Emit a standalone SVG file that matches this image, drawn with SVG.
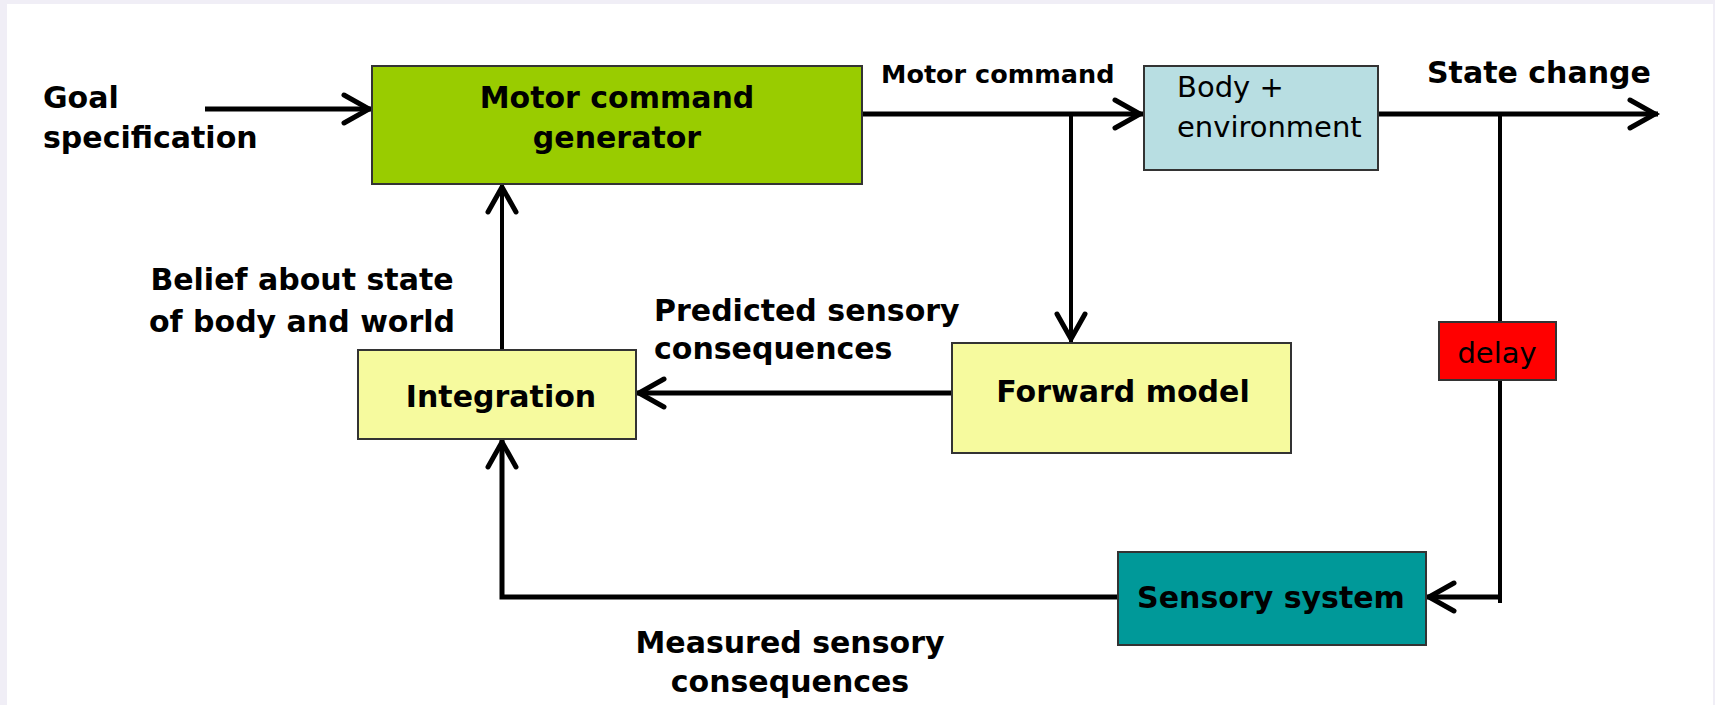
<svg xmlns="http://www.w3.org/2000/svg" width="1715" height="705" viewBox="0 0 1715 705">
  <style>
    .box { stroke: #333333; stroke-width: 2; }
    .b { font-family: "DejaVu Sans", Verdana, sans-serif; font-weight: bold; font-size: 30px; fill: #000; }
    .r { font-family: "DejaVu Sans", Verdana, sans-serif; font-weight: normal; font-size: 29px; fill: #000; }
    .c { text-anchor: middle; }
    .ln { fill: none; stroke: #000; stroke-width: 5; stroke-linejoin: miter; }
    .v { stroke-width: 4; }
  </style>
  <defs>
    <marker id="arr" markerUnits="userSpaceOnUse" markerWidth="44" markerHeight="44" viewBox="-38 -22 44 44" refX="0" refY="0" orient="auto" overflow="visible">
      <path d="M-28,-14 L-3,0 L-28,14" fill="none" stroke="#000" stroke-width="5" stroke-linecap="round"/>
    </marker>
  </defs>
  <rect x="0" y="0" width="1715" height="705" fill="#F0EEF6"/>
  <rect x="7" y="4" width="1706" height="701" fill="#FFFFFF"/>

  <g id="connectors">
    <path class="ln" d="M205,109 L372,109" marker-end="url(#arr)"/>
    <path class="ln" d="M862,114 L1143,114" marker-end="url(#arr)"/>
    <path class="ln" d="M1378,114 L1658,114" marker-end="url(#arr)"/>
    <path class="ln v" d="M1071,114 L1071,342" marker-end="url(#arr)"/>
    <path class="ln" d="M951,393 L636,393" marker-end="url(#arr)"/>
    <path class="ln v" d="M502,350 L502,184" marker-end="url(#arr)"/>
    <path class="ln" d="M1117,597 L502,597 L502,439" marker-end="url(#arr)"/>
    <path class="ln v" d="M1500,114 L1500,322"/>
    <path class="ln v" d="M1500,380 L1500,603"/>
    <path class="ln" d="M1500,597 L1426,597" marker-end="url(#arr)"/>
  </g>

  <g id="goal-label">
    <text class="b" x="43" y="108">Goal</text>
    <text class="b" x="43" y="148">specification</text>
  </g>

  <g id="motor-command-generator">
    <rect class="box" x="372" y="66" width="490" height="118" fill="#99CC00"/>
    <text class="b c" x="617" y="108">Motor command</text>
    <text class="b c" x="617" y="148">generator</text>
  </g>

  <g id="motor-command-label">
    <text class="b" x="881" y="83" style="font-size:25.5px">Motor command</text>
  </g>

  <g id="body-environment">
    <rect class="box" x="1144" y="66" width="234" height="104" fill="#B8DEE2"/>
    <text class="r" x="1177" y="97">Body +</text>
    <text class="r" x="1177" y="137">environment</text>
  </g>

  <g id="state-change-label">
    <text class="b" x="1427" y="83">State change</text>
  </g>

  <g id="belief-label">
    <text class="b c" x="302" y="290">Belief about state</text>
    <text class="b c" x="302" y="332">of body and world</text>
  </g>

  <g id="predicted-label">
    <text class="b" x="654" y="321">Predicted sensory</text>
    <text class="b" x="654" y="359">consequences</text>
  </g>

  <g id="integration">
    <rect class="box" x="358" y="350" width="278" height="89" fill="#F6FA9E"/>
    <text class="b c" x="501" y="407">Integration</text>
  </g>

  <g id="forward-model">
    <rect class="box" x="952" y="343" width="339" height="110" fill="#F6FA9E"/>
    <text class="b c" x="1123" y="402">Forward model</text>
  </g>

  <g id="delay">
    <rect class="box" x="1439" y="322" width="117" height="58" fill="#FF0000"/>
    <text class="r c" x="1497" y="363">delay</text>
  </g>

  <g id="sensory-system">
    <rect class="box" x="1118" y="552" width="308" height="93" fill="#009999"/>
    <text class="b c" x="1271" y="608">Sensory system</text>
  </g>

  <g id="measured-label">
    <text class="b c" x="790" y="653">Measured sensory</text>
    <text class="b c" x="790" y="692">consequences</text>
  </g>
</svg>
